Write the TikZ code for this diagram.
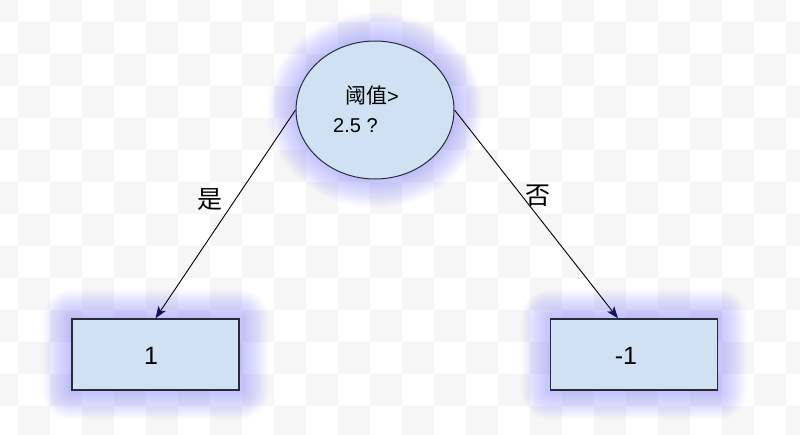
\documentclass[tikz,border=0pt]{standalone}
\usepackage{fontspec}
\setmainfont{Liberation Sans}
\newfontfamily\cjk{Noto Sans CJK SC}
\usetikzlibrary{shapes.geometric,arrows.meta,calc}
\definecolor{boxfill}{HTML}{CFE1F2}
\definecolor{boxline}{HTML}{2B2B38}
\definecolor{checker}{HTML}{F6F6F6}
\definecolor{glowc}{HTML}{6060FF}
\definecolor{tipc}{HTML}{14145A}
\pgfdeclarelayer{bg}
\pgfsetlayers{bg,main}
\tikzset{
  shapebox/.style={rectangle, draw=boxline, fill=boxfill, line width=1.3pt, minimum width=167, minimum height=71, inner sep=0},
  decision/.style={ellipse, draw=boxline, fill=boxfill, line width=1pt, minimum width=158, minimum height=138, inner sep=0},
  conn/.style={line width=0.9pt, -{Stealth[length=12pt,width=9pt,inset=3pt,color=tipc]}},
  glowlayer/.style={glowc, opacity=0.017},
  edgelabel/.style={font=\cjk\fontsize{25}{30}\selectfont, inner sep=0},
  valuetext/.style={font=\fontsize{25}{30}\selectfont, inner sep=0}
}
\begin{document}
\begin{tikzpicture}[x=1pt,y=-1pt]
\useasboundingbox (0,0) rectangle (800,434);
% nodes
\node[decision] (q) at (375,110) {};
\node[anchor=west, inner sep=0] (t1) at (345,96) {\cjk\fontsize{21}{24}\selectfont 阈值\normalfont\fontsize{20}{24}\selectfont>};
\node[anchor=west, inner sep=0, font=\fontsize{20}{24}\selectfont] (t2) at (333,126) {2.5 ?};
\node[shapebox] (b1) at (155.5,354.5) {};
\node[shapebox] (b2) at (634,354.5) {};
\node[valuetext] (v1) at (151,356) {1};
\node[valuetext] (v2) at (626,356) {-1};
% connectors
\draw[conn] (q.west) -- (b1.north);
\draw[conn] (q.east) -- ($(b2.north)+(-16,0)$);
\node[edgelabel] (yes) at (210,200) {是};
\node[edgelabel] (no) at (538,196) {否};
% background
\begin{pgfonlayer}{bg}
\begin{scope}
\clip (0,0) rectangle (800,434);
\fill[white] (0,0) rectangle (800,434);
\foreach \i in {0,...,25} {
  \foreach \j in {0,...,14} {
    \ifodd\numexpr\i+\j\relax\else
      \fill[checker] ({-14+32*\i},{-10+32*\j}) rectangle +(32,32);
    \fi
  }
}
\foreach \k in {1,...,24} {
  \fill[glowlayer, rounded corners={\k*1.2}] ([shift={(-\k*1.2,-\k*1.2)}]b1.north west) rectangle ([shift={(\k*1.2,\k*1.2)}]b1.south east);
  \fill[glowlayer, rounded corners={\k*1.2}] ([shift={(-\k*1.2,-\k*1.2)}]b2.north west) rectangle ([shift={(\k*1.2,\k*1.2)}]b2.south east);
  \fill[glowlayer] (q.center) ellipse [x radius={79+\k*1.2}, y radius={69+\k*1.2}];
}
\end{scope}
\end{pgfonlayer}
\end{tikzpicture}
\end{document}
